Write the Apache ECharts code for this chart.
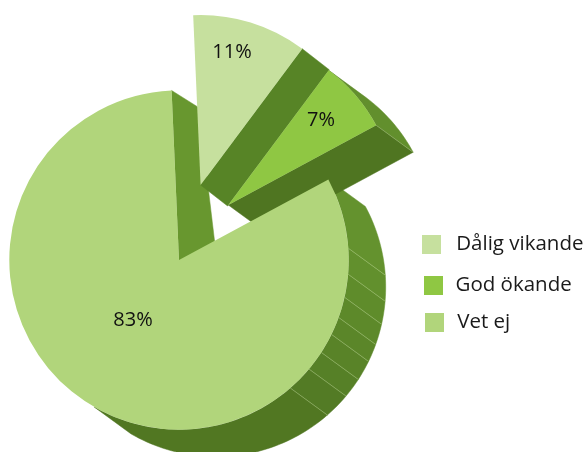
<!DOCTYPE html>
<html><head><meta charset="utf-8">
<style>html,body{margin:0;padding:0;background:#fff}#c{width:587px;height:452px}</style>
<script src="https://cdn.jsdelivr.net/npm/echarts@6/dist/echarts.min.js"></script>
</head><body><div id="c"></div>
<script>
const categories = ['Dålig vikande', 'God ökande', 'Vet ej'];
const values = [11, 7, 83];
const topColors = ['#c6e09e', '#8fc743', '#b1d57b'];

// Rotation of the pie and the exploded position of each slice.
const firstAngle = 92.5;
const centers = [[200.6, 185], [228.3, 205], [179, 260]];
const radii = [170, 168, 169.7];
const depths = [[27, 21], [37, 27], [37, 27]];

// Angles at which the outer wall of the big slice is split into facets.
const facetAngles = [4, -4.8, -12.7, -19.8, -26, -33, -40, -49, -120];
const facetColors = ['#64922e', '#62902d', '#5f8c2b', '#5d892a', '#5b8629', '#598328', '#568027', '#537b25', '#517722'];

const total = values.reduce((a, b) => a + b, 0);
const spans = [];
let cursor = firstAngle;
values.forEach(v => { const s = v / total * 360; spans.push([cursor, cursor - s]); cursor -= s; });

function rim(i, deg, off) {
  const a = deg * Math.PI / 180, c = centers[i], r = radii[i];
  return [c[0] + r * Math.cos(a) + (off ? off[0] : 0), c[1] - r * Math.sin(a) + (off ? off[1] : 0)];
}
function band(i, from, to, off) {
  const top = [], low = [], n = Math.max(2, Math.ceil(Math.abs(from - to) / 1.5));
  for (let k = 0; k <= n; k++) {
    const d = from + (to - from) * k / n;
    top.push(rim(i, d));
    low.unshift(rim(i, d, off));
  }
  return top.concat(low);
}
function poly(points, fill) { return { type: 'polygon', shape: { points }, style: { fill, stroke: fill, lineWidth: 0.5 } }; }
function seam(a, b) { return { type: 'line', shape: { x1: a[0], y1: a[1], x2: b[0], y2: b[1] }, style: { stroke: 'rgba(200,225,160,0.55)', lineWidth: 0.7 } }; }

function bigWalls() {
  const i = 2, off = depths[2], kids = [];
  // inner cut, visible through the gap at the top of the slice
  const tl = rim(i, spans[2][1]), c = centers[2];
  kids.push(poly([tl, [tl[0] + 27, tl[1] + 17], [c[0] + 42, c[1] + 35], c], '#68972f'));
  let from = spans[2][0];
  facetAngles.forEach((to, k) => {
    kids.push(poly(band(i, from, to, off), facetColors[k]));
    from = to;
  });
  facetAngles.slice(0, -1).forEach(d => kids.push(seam(rim(i, d), rim(i, d, off))));
  return { type: 'group', children: kids };
}
function midWalls() {
  const i = 1, off = depths[1], s = spans[1], c = centers[1];
  const end = rim(i, s[1]);
  return { type: 'group', children: [
    poly(band(i, s[0], s[1], off), '#628f2d'),
    poly([c, end, rim(i, s[1], off), [c[0] + off[0], c[1] + off[1]]], '#4f7521'),
    seam(end, rim(i, s[1], off))
  ] };
}
function smallWalls() {
  const i = 0, off = depths[0], s = spans[0], c = centers[0];
  return { type: 'group', children: [
    poly([c, rim(i, s[1]), rim(i, s[1], off), [c[0] + off[0], c[1] + off[1]]], '#578426')
  ] };
}
function wallSeries(render, z) {
  return { type: 'custom', coordinateSystem: 'none', silent: true, z, data: [0], renderItem: render, animation: false, clip: false };
}

const labelSpots = [[232, 52], [321, 120], [133, 320]];
const topZ = [4, 5, 6];
const pies = categories.map((name, i) => ({
  type: 'pie', name, z: topZ[i], center: centers[i], radius: [0, radii[i]],
  startAngle: spans[i][0], endAngle: spans[i][1], clockwise: true, animation: false, silent: true,
  itemStyle: { color: topColors[i] },
  label: { show: true, position: 'inside', formatter: '{c}%', color: '#111', fontSize: 20, fontFamily: 'Open Sans' },
  labelLine: { show: false },
  labelLayout: { x: labelSpots[i][0], y: labelSpots[i][1], align: 'center', verticalAlign: 'middle' },
  data: [{ name, value: values[i] }]
}));

const legendSpots = [[422, 234, 10.2], [424, 275, 7.5], [425, 312, 8.2]];
const legends = categories.map((name, i) => ({
  data: [name], left: legendSpots[i][0], top: legendSpots[i][1], icon: 'rect', itemWidth: 19, itemHeight: 19,
  selectedMode: false, padding: 0,
  textStyle: { fontSize: 20.5, fontFamily: 'Open Sans', color: '#1a1a1a', padding: [0, 0, 0, legendSpots[i][2]] }
}));

const chart = echarts.init(document.getElementById('c'), null, { renderer: 'canvas' });
chart.setOption({
  backgroundColor: '#fff',
  legend: legends,
  series: [wallSeries(bigWalls, 1), wallSeries(midWalls, 2), wallSeries(smallWalls, 3)].concat(pies)
});
</script></body></html>
